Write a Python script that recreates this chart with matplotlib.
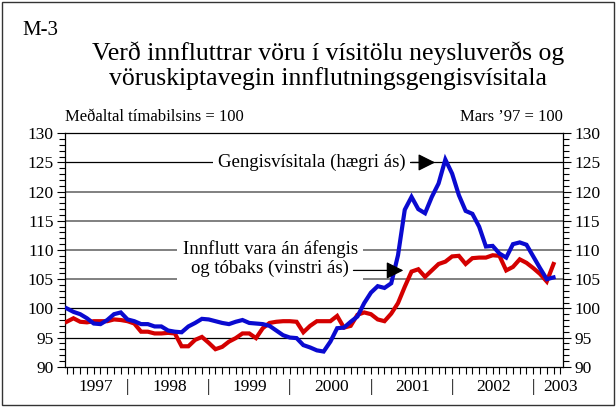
import matplotlib
matplotlib.use('Agg')
import matplotlib.pyplot as plt
from matplotlib.patches import Rectangle, FancyArrowPatch
from matplotlib.ticker import MultipleLocator
import matplotlib.transforms as mtransforms

plt.rcParams['font.family'] = ['Liberation Serif', 'DejaVu Serif']

# Monthly data, March 1997 - March 2003 (index 0 = Mars '97)
gengi = [100.0, 99.4, 99.0, 98.3, 97.4, 97.3, 98.0, 99.0, 99.3, 98.1,
         97.8, 97.3, 97.3, 96.9, 96.9, 96.2, 96.0, 95.9, 96.9, 97.5,
         98.2, 98.1, 97.8, 97.5, 97.3, 97.7, 98.0, 97.5, 97.4, 97.3,
         97.0, 96.2, 95.4, 95.0, 94.9, 93.7, 93.3, 92.8, 92.6, 94.3,
         96.6, 96.7, 97.7, 98.6, 100.9, 102.7, 103.8, 103.5, 104.3, 109.1,
         116.9, 119.1, 117.0, 116.3, 119.1, 121.4, 125.5, 123.1, 119.4, 116.7,
         116.2, 114.0, 110.6, 110.7, 109.4, 108.7, 111.0, 111.3, 110.9, 108.9,
         106.9, 105.0, 105.3]
innflutt = [97.7, 98.3, 97.7, 97.6, 97.8, 97.8, 97.8, 98.1, 98.0, 97.8,
            97.4, 96.0, 96.0, 95.7, 95.7, 95.8, 95.7, 93.5, 93.5, 94.6,
            95.1, 94.1, 93.0, 93.4, 94.3, 94.9, 95.7, 95.7, 94.9, 96.6,
            97.5, 97.7, 97.8, 97.8, 97.7, 95.9, 97.0, 97.8, 97.8, 97.8,
            98.7, 96.7, 97.0, 98.9, 99.3, 99.0, 98.1, 97.8, 99.1, 100.9,
            103.7, 106.3, 106.7, 105.4, 106.5, 107.6, 108.0, 108.9, 109.0, 107.6,
            108.6, 108.7, 108.7, 109.1, 109.0, 106.5, 107.1, 108.4, 107.8, 106.9,
            105.9, 104.6, 107.6]
years = ['1997', '1998', '1999', '2000', '2001', '2002', '2003']
year_pos = [4.3, 15.2, 27.1, 39.1, 51.1, 63.1, 73.0]
sep_pos = [9, 21, 33, 45, 57, 69]

x = list(range(len(gengi)))

fig = plt.figure(figsize=(6.16, 4.07), dpi=100)
ax = fig.add_axes([0.1055, 0.099, 0.809, 0.5735])

# horizontal grid
for v in [105, 110, 115, 120]:
    ax.axhline(v, color='#808080', lw=1.4, zorder=1)
for v in [95, 100, 125]:
    ax.axhline(v, color='black', lw=0.9, zorder=1)

ax.plot(x, gengi, color='#0a0ad0', lw=3.0, zorder=4, solid_joinstyle='miter')
ax.plot(x, innflutt, color='#d40000', lw=3.0, zorder=3, solid_joinstyle='miter')

ax.set_xlim(-0.25, 73.45)
ax.set_ylim(90, 130)
ax.yaxis.set_major_locator(MultipleLocator(5))
ax.yaxis.set_minor_locator(MultipleLocator(1))
ax.set_xticks(range(0, 74))
ax.set_xticklabels([])
ax.tick_params(axis='y', which='both', direction='out', left=True, right=True,
               labelleft=True, labelright=True, labelsize=12.5, pad=2)
ax.tick_params(axis='y', which='major', length=6, width=0.8)
ax.tick_params(axis='y', which='minor', length=4, width=0.8)
ax.tick_params(axis='x', which='major', direction='out', length=5, width=0.8)
for s in ax.spines.values():
    s.set_linewidth(0.9)

# year labels and separators under the axis
trans = mtransforms.blended_transform_factory(ax.transData, ax.transAxes)
for yr, p in zip(years, year_pos):
    ax.text(p, -0.087, yr, transform=trans, ha='center', va='center', fontsize=12.5)
for p in sep_pos:
    ax.text(p, -0.087, '|', transform=trans, ha='center', va='center', fontsize=12.5)

# annotations
ax.text(36.2, 125, 'Gengisvísitala (hægri ás)', ha='center', va='center', fontsize=13.5,
        zorder=5, bbox=dict(facecolor='white', edgecolor='none', boxstyle='square,pad=0.25'))
ax.add_patch(FancyArrowPatch((50.6, 125), (54.9, 125), arrowstyle='-|>,head_length=0.7,head_width=0.35',
                             color='black', lw=0.9, mutation_scale=15, zorder=6))
ax.text(30.1, 108.5, 'Innflutt vara án áfengis\nog tóbaks (vinstri ás)', ha='center', va='center',
        fontsize=13.5, linespacing=1.1, zorder=5,
        bbox=dict(facecolor='white', edgecolor='none', boxstyle='square,pad=0.3'))
ax.add_patch(FancyArrowPatch((42.0, 106.5), (50.2, 106.5), arrowstyle='-|>,head_length=0.7,head_width=0.35',
                             color='black', lw=0.9, mutation_scale=15, zorder=6))

# titles
fig.text(0.036, 0.925, 'M-3', fontsize=15, va='center', ha='left')
fig.text(0.533, 0.870, 'Verð innfluttrar vöru í vísitölu neysluverðs og', fontsize=18.5,
         ha='center', va='center')
fig.text(0.533, 0.806, 'vöruskiptavegin innflutningsgengisvísitala', fontsize=18.5,
         ha='center', va='center')
fig.text(0.1055, 0.712, 'Meðaltal tímabilsins = 100', fontsize=12, ha='left', va='center')
fig.text(0.9145, 0.712, 'Mars ’97 = 100', fontsize=12, ha='right', va='center')

# outer frame
fig.patches.append(Rectangle((0.004, 0.004), 0.992, 0.992, transform=fig.transFigure,
                             fill=False, edgecolor='#333333', lw=1.0))

fig.savefig('out.png', dpi=100)
